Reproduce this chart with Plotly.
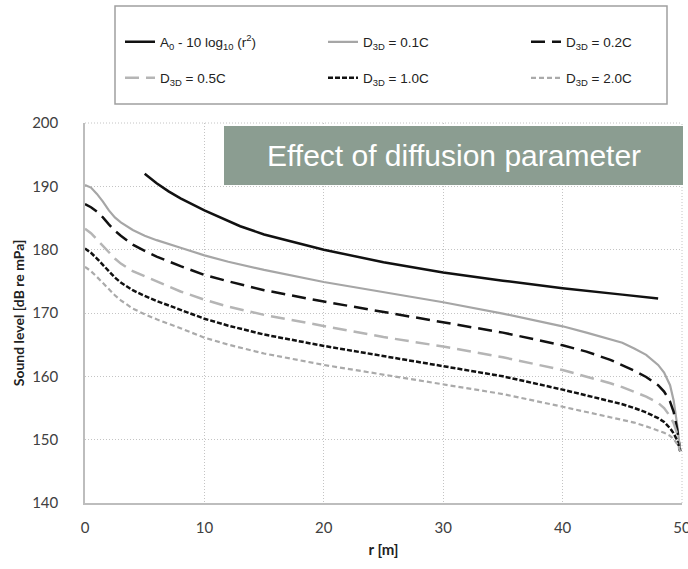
import plotly.graph_objects as go

# ---- data ----
r_ref = [5, 6, 7, 8, 10, 12, 13, 15, 17, 20, 25, 30, 35, 40, 45, 48]
a0_ref = [192.0, 190.5, 189.2, 188.1, 186.2, 184.5, 183.7, 182.4, 181.4, 180.0, 178.0, 176.4, 175.1, 173.9, 172.9, 172.3]

r_d = [0, 0.5, 1, 1.5, 2, 2.5, 3, 4, 5, 6, 8, 10, 12, 15, 20, 25, 30, 35, 40, 42, 44, 45, 46, 47, 48, 48.5, 49, 49.3, 49.6, 49.85]
d01 = [190.2, 189.8, 188.8, 187.6, 186.2, 185.1, 184.3, 183.1, 182.2, 181.5, 180.3, 179.1, 178.1, 176.8, 174.9, 173.3, 171.7, 169.9, 167.9, 166.9, 165.9, 165.3, 164.4, 163.4, 161.8, 160.6, 158.6, 156.2, 152.3, 148.2]
d02 = [187.2, 186.7, 186.0, 185.1, 184.0, 183.0, 182.2, 180.8, 179.8, 178.9, 177.4, 176.0, 175.0, 173.6, 171.8, 170.2, 168.6, 166.9, 164.9, 163.9, 162.6, 161.8, 160.9, 159.9, 158.6, 157.6, 156.0, 154.4, 151.6, 148.2]
d05 = [183.3, 182.6, 181.6, 180.6, 179.5, 178.6, 177.8, 176.6, 175.8, 175.0, 173.4, 172.1, 171.0, 169.7, 167.9, 166.2, 164.7, 163.0, 161.0, 160.0, 158.9, 158.3, 157.6, 156.8, 155.8, 155.0, 153.7, 152.6, 150.9, 148.2]
d10 = [180.2, 179.5, 178.6, 177.6, 176.5, 175.6, 174.8, 173.6, 172.7, 171.9, 170.5, 169.1, 168.0, 166.6, 164.8, 163.2, 161.7, 160.0, 157.9, 157.0, 156.1, 155.6, 155.0, 154.3, 153.4, 152.8, 151.8, 151.0, 149.9, 148.2]
d20 = [177.3, 176.6, 175.7, 174.7, 173.7, 172.8, 172.0, 170.7, 169.8, 169.0, 167.6, 166.1, 165.0, 163.6, 161.8, 160.3, 158.8, 157.2, 155.2, 154.4, 153.6, 153.2, 152.7, 152.1, 151.5, 151.1, 150.6, 150.1, 149.3, 148.2]

x_ticks = [0, 10, 20, 30, 40, 50]
y_ticks = [140, 150, 160, 170, 180, 190, 200]

names = ["A<sub>0</sub> - 10 log<sub>10</sub> (r<sup>2</sup>)",
         "D<sub>3D</sub> = 0.1C", "D<sub>3D</sub> = 0.2C",
         "D<sub>3D</sub> = 0.5C", "D<sub>3D</sub> = 1.0C", "D<sub>3D</sub> = 2.0C"]
title_text = "Effect of diffusion parameter"

fig = go.Figure()
series = [
    (r_ref, a0_ref, "#111111", "solid", 2.5, "legend", 158),
    (r_d, d01, "#a6a6a6", "solid", 2.2, "legend", 158),
    (r_d, d02, "#111111", "14px,7px", 2.5, "legend", 100),
    (r_d, d05, "#b5b5b5", "14px,7px", 2.5, "legend2", 158),
    (r_d, d10, "#111111", "5px,2px", 2.5, "legend2", 158),
    (r_d, d20, "#aaaaaa", "5px,3px", 2.2, "legend2", 100),
]
for (xs, ys, col, dash, w, lg, lw), nm in zip(series, names):
    fig.add_trace(go.Scatter(x=xs, y=ys, mode="lines", name=nm, legend=lg, legendwidth=lw,
                             line=dict(color=col, dash=dash, width=w)))

PLOT_L, PLOT_R, PLOT_T, PLOT_B = 85, 6, 123, 66
W, H = 688, 569
pw, ph = W - PLOT_L - PLOT_R, H - PLOT_T - PLOT_B

def px2x(px):
    return (px - PLOT_L) / pw

def py2y(py):
    return (H - PLOT_B - py) / ph

legfont = dict(family="Liberation Sans, Arial, sans-serif", size=13.5, color="#222222")
common_leg = dict(orientation="h", xanchor="left", yanchor="middle", font=legfont,
                  bgcolor="rgba(0,0,0,0)", borderwidth=0,
                  entrywidthmode="pixels", itemwidth=30, traceorder="normal")

axfont = "Lato, Open Sans, sans-serif"
grid = dict(showgrid=True, gridcolor="#c4c4c4", griddash="1px,2px", gridwidth=1,
            showline=True, linecolor="#bdbdbd", linewidth=1.5, zeroline=False, ticks="",
            tickfont=dict(family=axfont, size=15, color="#404040"), automargin=False,
            ticklabeloverflow="allow")

fig.update_layout(
    width=W, height=H,
    margin=dict(l=PLOT_L, r=PLOT_R, t=PLOT_T, b=PLOT_B, autoexpand=False),
    paper_bgcolor="white", plot_bgcolor="white",
    showlegend=True,
    legend=dict(x=px2x(120), y=py2y(42), **common_leg),
    legend2=dict(x=px2x(120), y=py2y(78), **common_leg),
    xaxis=dict(range=[0, 50], tickvals=x_ticks, ticklabelstandoff=10,
               title=dict(text="<b>r [m]</b>", standoff=10,
                          font=dict(family=axfont, size=15, color="#222222")),
               **grid),
    yaxis=dict(range=[140, 200], tickvals=y_ticks, ticklabelstandoff=22,
               title=dict(text="<b>Sound level [dB re mPa]</b>", standoff=4,
                          font=dict(family=axfont, size=14, color="#222222")),
               **grid),
    shapes=[
        dict(type="line", xref="paper", yref="paper", x0=0, x1=1, y0=1, y1=1,
             line=dict(color="#c4c4c4", width=1, dash="1px,2px"), layer="below"),
        dict(type="line", xref="paper", yref="paper", x0=1, x1=1, y0=0, y1=1,
             line=dict(color="#c4c4c4", width=1, dash="1px,2px"), layer="below"),
        dict(type="rect", xref="paper", yref="paper", x0=px2x(115), x1=px2x(667),
             y0=py2y(104), y1=py2y(6), line=dict(color="#a0a0a0", width=1.5),
             fillcolor="rgba(0,0,0,0)", layer="above"),
        dict(type="rect", xref="paper", yref="paper", x0=px2x(224), x1=px2x(683),
             y0=py2y(185), y1=py2y(126), line=dict(width=0),
             fillcolor="#8b9d91", layer="above"),
    ],
    annotations=[
        dict(text=title_text, xref="paper", yref="paper", x=px2x(453.5), y=py2y(155.5),
             xanchor="center", yanchor="middle", showarrow=False,
             font=dict(family="Liberation Sans, Arial, sans-serif", size=30, color="white")),
    ],
)

fig.write_html("out.html")
